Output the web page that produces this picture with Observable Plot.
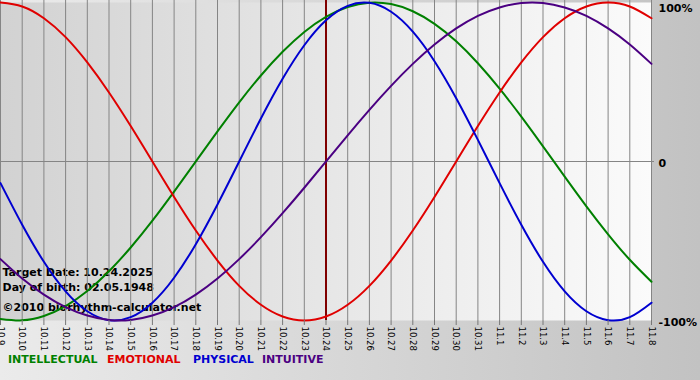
<!DOCTYPE html>
<html><head><meta charset="utf-8">
<script src="https://cdn.jsdelivr.net/npm/d3@7"></script>
<script src="https://cdn.jsdelivr.net/npm/@observablehq/plot@0.6"></script>
<style>
html,body{margin:0;padding:0}
body{width:700px;height:380px;overflow:hidden;position:relative;background:linear-gradient(to right,#ebebeb,#c2c2c2);font-family:"DejaVu Sans",Verdana,sans-serif}
#chart{position:absolute;left:0;top:0}
#legend{position:absolute;left:0;top:353px;width:700px;height:20px;font:bold 11px "DejaVu Sans",Verdana,sans-serif;white-space:nowrap}
#legend span{position:absolute;top:0}
</style></head><body><div id="chart"></div><div id="legend"></div>
<script>
const dayLabels = ["10.9","10.10","10.11","10.12","10.13","10.14","10.15","10.16","10.17","10.18","10.19","10.20","10.21","10.22","10.23","10.24","10.25","10.26","10.27","10.28","10.29","10.30","10.31","11.1","11.2","11.3","11.4","11.5","11.6","11.7","11.8"];
const targetDay = "10.24";
const intellectual = [-0.990,-0.999,-0.972,-0.910,-0.815,-0.690,-0.541,-0.372,-0.189,0,0.189,0.372,0.541,0.690,0.815,0.910,0.972,0.999,0.990,0.945,0.866,0.756,0.618,0.458,0.282,0.095,-0.095,-0.282,-0.458,-0.618,-0.756];
const emotional = [1,0.975,0.901,0.782,0.623,0.434,0.223,0,-0.223,-0.434,-0.623,-0.782,-0.901,-0.975,-1,-0.975,-0.901,-0.782,-0.623,-0.434,-0.223,0,0.223,0.434,0.623,0.782,0.901,0.975,1,0.975,0.901];
const physical = [-0.136,-0.398,-0.631,-0.817,-0.942,-0.998,-0.979,-0.888,-0.731,-0.520,-0.270,0,0.270,0.520,0.731,0.888,0.979,0.998,0.942,0.817,0.631,0.398,0.136,-0.136,-0.398,-0.631,-0.817,-0.942,-0.998,-0.979,-0.888];
const intuitive = [-0.614,-0.736,-0.837,-0.916,-0.969,-0.997,-0.997,-0.969,-0.916,-0.837,-0.736,-0.614,-0.476,-0.325,-0.165,0,0.165,0.325,0.476,0.614,0.736,0.837,0.916,0.969,0.997,0.997,0.969,0.916,0.837,0.736,0.614];
const seriesNames = ["INTELLECTUAL","EMOTIONAL","PHYSICAL","INTUITIVE"];
const seriesColors = ["#008000","#e00000","#0000d0","#4b0082"];
const yTickValues = [1,0,-1];
const yTickLabels = ["100%","0","-100%"];
const infoLines = ["Target Date: 10.24.2025","Day of birth: 02.05.1948","©2010 biorhythm-calculator.net"];

const seriesValues = [intellectual, emotional, physical, intuitive];
const dayIndex = dayLabels.map((d, i) => i);
const rows = [];
seriesNames.forEach((name, s) => dayLabels.forEach((d, i) => rows.push({series: name, i, value: seriesValues[s][i]})));
const yLab = yTickValues.map((v, i) => ({v, label: yTickLabels[i]}));
const font = '"DejaVu Sans",Verdana,sans-serif';

const svg = Plot.plot({
  width: 700, height: 345,
  marginLeft: 0, marginRight: 49, marginTop: 2, marginBottom: 25,
  style: {background: "transparent", overflow: "visible", fontFamily: font},
  x: {type: "linear", domain: [0, dayLabels.length - 1], axis: null},
  y: {domain: [-1, 1], axis: null},
  color: {domain: seriesNames, range: seriesColors},
  marks: [
    Plot.frame({fill: "#eeeeee", stroke: null}),
    Plot.text([infoLines[0]], {text: d => d, frameAnchor: "top-left", dx: 2, dy: 266, textAnchor: "start", fontWeight: "bold", fontSize: 11, fill: "black"}),
    Plot.text([infoLines[1]], {text: d => d, frameAnchor: "top-left", dx: 2, dy: 281, textAnchor: "start", fontWeight: "bold", fontSize: 11, fill: "black"}),
    Plot.text([infoLines[2]], {text: d => d, frameAnchor: "top-left", dx: 2, dy: 301, textAnchor: "start", fontWeight: "bold", fontSize: 11, fill: "black"}),
    Plot.ruleX(dayIndex, {stroke: "#858585", strokeWidth: 1, insetTop: -2}),
    Plot.ruleY([0], {stroke: "#858585", strokeWidth: 1, insetRight: -3}),
    Plot.ruleX([dayLabels.indexOf(targetDay)], {stroke: "#800000", strokeWidth: 2, insetTop: -2}),
    Plot.line(rows, {x: "i", y: "value", z: "series", stroke: "series", strokeWidth: 2, curve: "natural"}),
    Plot.axisX({ticks: dayIndex, tickFormat: i => dayLabels[i], tickRotate: 90, tickSize: 5, tickPadding: 1, fontSize: 8.5, fill: "black", stroke: "#777", label: null}),
    Plot.text(yLab.filter(d => d.v === 1), {y: "v", text: "label", frameAnchor: "right", dx: 7, dy: 6, textAnchor: "start", fontWeight: "bold", fontSize: 11, fill: "black"}),
    Plot.text(yLab.filter(d => d.v !== 1), {y: "v", text: "label", frameAnchor: "right", dx: 7, dy: 1.5, textAnchor: "start", fontWeight: "bold", fontSize: 11, fill: "black"})
  ]
});

const defs = d3.select(svg).insert("defs", ":first-child");
const grad = defs.append("linearGradient").attr("id", "plotGrad").attr("x1", "0").attr("x2", "1").attr("y1", "0").attr("y2", "0");
grad.append("stop").attr("offset", "0").attr("stop-color", "#d2d2d2");
grad.append("stop").attr("offset", "1").attr("stop-color", "#fbfbfb");
d3.select(svg).selectAll('[aria-label="frame"]').attr("fill", "url(#plotGrad)");
d3.select(svg).selectAll('[aria-label="frame"] rect').attr("fill", "url(#plotGrad)");
document.getElementById("chart").appendChild(svg);

const legendLeft = [8, 107, 193, 262];
const legend = d3.select("#legend");
seriesNames.forEach((n, i) => legend.append("span").style("left", legendLeft[i] + "px").style("color", seriesColors[i]).text(n));
</script></body></html>
